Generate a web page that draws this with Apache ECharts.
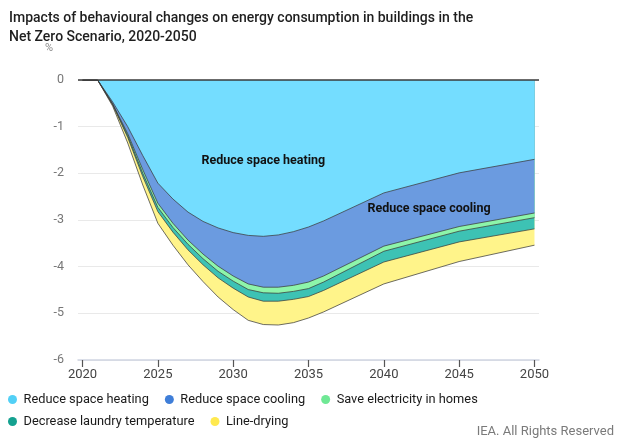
<!DOCTYPE html>
<html>
<head>
<meta charset="utf-8">
<script src="https://cdn.jsdelivr.net/npm/echarts@6/dist/echarts.min.js"></script>
<style>
  html, body { margin: 0; padding: 0; background: #ffffff; }
  #chart { width: 624px; height: 440px; }
</style>
</head>
<body>
<div id="chart"></div>
<script>
// Years sampled (x values)
const years = [2020, 2021, 2022, 2023, 2024, 2025, 2026, 2027, 2028, 2029, 2030, 2031, 2032, 2033, 2034, 2035, 2036, 2040, 2045, 2050];
// Layer contributions (percentage points, negative = savings)
const reduceSpaceHeating = [0, 0, -0.47, -1.00, -1.62, -2.21, -2.55, -2.83, -3.03, -3.17, -3.27, -3.33, -3.35, -3.32, -3.25, -3.15, -3.02, -2.42, -1.99, -1.70];
const reduceSpaceCooling = [0, 0, -0.04, -0.15, -0.30, -0.43, -0.52, -0.60, -0.70, -0.82, -0.93, -1.04, -1.09, -1.12, -1.15, -1.18, -1.18, -1.14, -1.15, -1.15];
const saveElectricity = [0, 0, -0.01, -0.04, -0.08, -0.09, -0.09, -0.09, -0.10, -0.11, -0.11, -0.12, -0.12, -0.13, -0.13, -0.14, -0.13, -0.11, -0.10, -0.10];
const decreaseLaundryTemp = [0, 0, -0.01, -0.04, -0.07, -0.09, -0.10, -0.12, -0.13, -0.14, -0.15, -0.16, -0.18, -0.17, -0.17, -0.17, -0.18, -0.23, -0.23, -0.24];
const lineDrying = [0, 0, -0.03, -0.12, -0.18, -0.25, -0.28, -0.32, -0.36, -0.41, -0.46, -0.50, -0.50, -0.51, -0.50, -0.46, -0.46, -0.47, -0.42, -0.35];

const seriesNames = ['Reduce space heating', 'Reduce space cooling', 'Save electricity in homes', 'Decrease laundry temperature', 'Line-drying'];
const seriesValues = [reduceSpaceHeating, reduceSpaceCooling, saveElectricity, decreaseLaundryTemp, lineDrying];

const xTickValues = [2020, 2025, 2030, 2035, 2040, 2045, 2050];
const yTickLabels = ['-6', '-5', '-4', '-3', '-2', '-1', '0'];

// annotation labels [name, x, y]
const annotations = [
  ['Reduce space heating', 2032.0, -1.74],
  ['Reduce space cooling', 2043.0, -2.77]
];

const legendColors = ['#52d0f6', '#3f7ed8', '#6fe895', '#14a190', '#ffe94f'];
const areaColors = ['#74ddff', '#6b9be0', '#8df5aa', '#3dc2b4', '#fff48a'];

const FONT = 'Roboto';

// cumulative (stacked) boundaries built from the layer arrays
const cumulative = [];
seriesValues.forEach((vals, i) => {
  cumulative.push(vals.map((v, j) => (i === 0 ? 0 : cumulative[i - 1][j]) + v));
});

const labelStyle = {
  show: true, position: 'inside', color: '#111',
  fontFamily: FONT, fontSize: 12.5, fontWeight: 'bold'
};

// draw bottom-most cumulative first so upper layers paint on top of it
const series = [];
for (let i = seriesNames.length - 1; i >= 0; i--) {
  const s = {
    name: seriesNames[i],
    type: 'line',
    showSymbol: false,
    symbol: 'none',
    data: years.map((y, j) => [y, +cumulative[i][j].toFixed(3)]),
    itemStyle: { color: legendColors[i] },
    lineStyle: { color: 'rgba(60,60,60,0.75)', width: 1 },
    areaStyle: { color: areaColors[i], opacity: 1 },
    emphasis: { disabled: true },
    z: 2
  };
  const ann = annotations.filter(a => a[0] === seriesNames[i]);
  if (ann.length) {
    s.markPoint = {
      silent: true, symbol: 'circle', symbolSize: 1,
      itemStyle: { color: 'rgba(0,0,0,0)' },
      label: Object.assign({ formatter: ann[0][0] }, labelStyle),
      data: [{ coord: [ann[0][1], ann[0][2]] }],
      z: 10
    };
  }
  if (i === 0) {
    s.markLine = {
      silent: true, symbol: 'none', label: { show: false },
      lineStyle: { color: '#3a3a3a', width: 1.5, type: 'solid' },
      data: [{ yAxis: 0 }],
      z: 5
    };
  }
  series.push(s);
}

const chart = echarts.init(document.getElementById('chart'), null, { renderer: 'canvas' });
chart.setOption({
  animation: false,
  backgroundColor: '#ffffff',
  textStyle: { fontFamily: FONT },
  title: [
    {
      text: 'Impacts of behavioural changes on energy consumption in buildings in the\nNet Zero Scenario, 2020-2050',
      left: 4, top: 4,
      textStyle: { fontFamily: FONT, fontSize: 14, fontWeight: 500, color: '#1e1e1e', lineHeight: 19 }
    },
    {
      text: 'IEA. All Rights Reserved',
      right: 5, top: 420,
      textStyle: { fontFamily: FONT, fontSize: 13, fontWeight: 'normal', color: '#7a7a7a' }
    }
  ],
  legend: [
    {
      data: seriesNames.slice(0, 3),
      left: 3, top: 388,
      icon: 'circle', itemWidth: 14, itemHeight: 9, itemGap: 16,
      itemStyle: { borderWidth: 0 },
      textStyle: { fontFamily: FONT, fontSize: 12.8, color: '#1a1a1a', padding: [0, 0, 0, -1] },
      selectedMode: false
    },
    {
      data: seriesNames.slice(3),
      left: 3, top: 410,
      icon: 'circle', itemWidth: 14, itemHeight: 9, itemGap: 16,
      itemStyle: { borderWidth: 0 },
      textStyle: { fontFamily: FONT, fontSize: 12.8, color: '#1a1a1a', padding: [0, 0, 0, -1] },
      selectedMode: false
    }
  ],
  grid: { left: 78, right: 85, top: 80, bottom: 80, containLabel: false },
  xAxis: {
    type: 'value',
    min: 2019.7,
    max: 2050.3,
    axisLine: { show: true, onZero: false, lineStyle: { color: '#cfd5e2', width: 1.5 } },
    axisTick: { show: true, customValues: xTickValues, length: 7, lineStyle: { color: '#555', width: 1.2 } },
    axisLabel: { customValues: xTickValues, formatter: v => String(v), color: '#444', fontSize: 13, fontFamily: FONT, margin: 8 },
    splitLine: { show: false }
  },
  yAxis: {
    type: 'value',
    min: -6, max: 0, interval: 1,
    name: '%',
    nameLocation: 'end',
    nameGap: 26,
    nameTextStyle: { color: '#888', fontSize: 11, fontFamily: FONT, align: 'right', padding: [0, 25, 0, 0] },
    axisLine: { show: false },
    axisTick: { show: false },
    axisLabel: { color: '#777', fontSize: 12.5, fontFamily: FONT, margin: 14, formatter: v => yTickLabels[Math.round(v) + 6] },
    splitLine: { show: true, lineStyle: { color: '#e9e9e9', width: 1 } }
  },
  series: series
});
</script>
</body>
</html>
